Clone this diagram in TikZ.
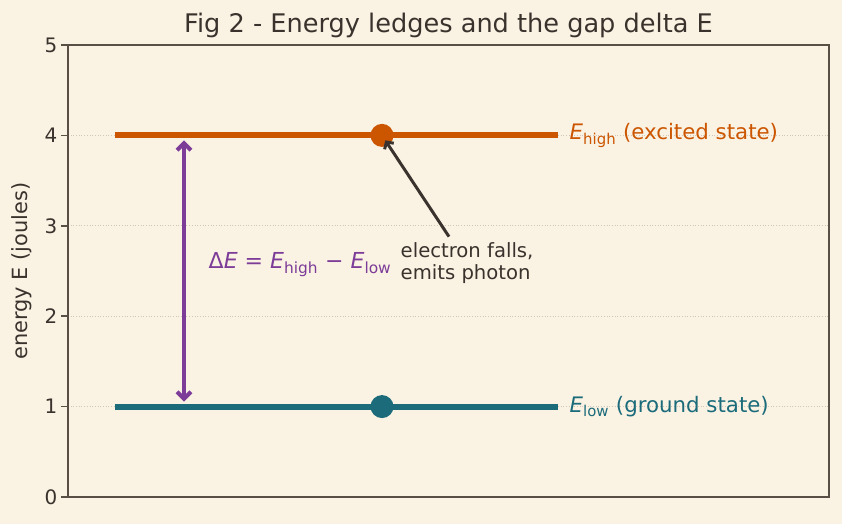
\documentclass[tikz,border=0pt]{standalone}
\usepackage{fontspec}
\setmainfont{DejaVu Sans}
\usetikzlibrary{arrows.meta}
\definecolor{bgcol}{HTML}{FAF3E4}
\definecolor{hicol}{HTML}{CC5500}
\definecolor{locol}{HTML}{1B6B7B}
\definecolor{gapcol}{HTML}{7D3C98}
\definecolor{axcol}{HTML}{5A4F44}
\definecolor{txtcol}{HTML}{3A332D}
\definecolor{gridcol}{HTML}{CFC8BA}
\tikzset{
	ledge/.style={line width=6bp},
	dot/.style={circle,inner sep=0pt,minimum size=23bp},
	axline/.style={axcol,line width=1.6bp},
	ticklab/.style={anchor=east,text=txtcol,inner sep=3bp,font=\fontsize{20}{24}\selectfont},
	levellab/.style={anchor=west,font=\fontsize{21.4}{25}\selectfont},
}
\begin{document}
\begin{tikzpicture}[x=1bp,y=1bp,thick]
	\useasboundingbox[fill=bgcol] (0,0) rectangle (842,524);
	
	%Titel
	\node[text=txtcol,font=\fontsize{25.7}{29}\selectfont] (title) at (448.5,499) {Fig 2 - Energy ledges and the gap delta E};
	\node[rotate=90,text=txtcol,font=\fontsize{21}{25}\selectfont] (ylab) at (22,253) {energy E (joules)};
	
	\begin{scope}[shift={(68,27)},y=90.4bp]
		%Gitter
		\foreach \k in {1,...,4}
		\draw[gridcol,dotted,line width=0.7bp] (0,\k) -- (761,\k);
		
		%Achsen
		\draw[axline] (0,0) rectangle (761,5);
		\foreach \k in {0,...,5}
		\draw[axline] (0,\k) -- ++(-7,0) node[ticklab] (tick\k) {\k};
		
		%Niveaus
		\draw[hicol,ledge] (47,4) -- (490,4);
		\draw[locol,ledge] (47,1) -- (490,1);
		\node[dot,fill=hicol] (hidot) at (314,4) {};
		\node[dot,fill=locol] (lodot) at (314,1) {};
		\node[levellab,text=hicol] (hilab) at (498,4) {\textit{E}\textsubscript{high} (excited state)};
		\node[levellab,text=locol] (lolab) at (498,1) {\textit{E}\textsubscript{low} (ground state)};
		
		%Abstand
		\coordinate (gaptop) at (116,4);
		\coordinate (gapbot) at (116,1);
		\draw[gapcol,line width=4bp,{Straight Barb[length=7bp,width=14bp]}-{Straight Barb[length=7bp,width=14bp]},shorten <=5bp,shorten >=5bp]
		(gaptop) -- (gapbot);
		\node[anchor=west,text=gapcol,font=\fontsize{22.1}{26}\selectfont] (gaplab) at (137,2.57)
		{Δ\textit{E} = \textit{E}\textsubscript{high} − \textit{E}\textsubscript{low}};
		
		%Photon
		\node[anchor=west,align=left,text=txtcol,font=\fontsize{19.7}{22}\selectfont] (note) at (329,2.59)
		{electron falls,\\emits photon};
		\coordinate (notetail) at (381,2.88);
		\draw[txtcol,line width=3bp,-{Straight Barb[length=5bp,width=11bp]},shorten >=6bp]
		(notetail) -- (hidot.center);
	\end{scope}
\end{tikzpicture}
\end{document}
